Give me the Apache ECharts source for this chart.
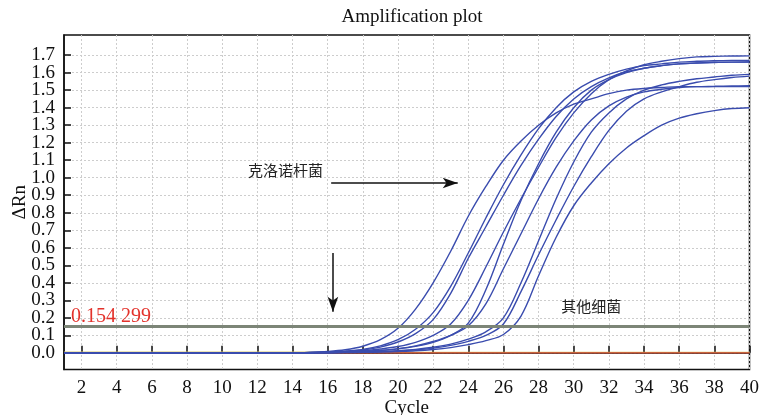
<!DOCTYPE html>
<html><head><meta charset="utf-8">
<script src="https://cdn.jsdelivr.net/npm/echarts@6/dist/echarts.min.js"></script>
<style>html,body{margin:0;padding:0;background:#fff}#c{width:760px;height:415px}</style>
</head><body><div id="c"></div>
<script>
const cycles = [1,2,3,4,5,6,7,8,9,10,11,12,13,14,15,16,17,18,19,20,21,22,23,24,25,26,27,28,29,30,31,32,33,34,35,36,37,38,39,40];
const xTicks = [2,4,6,8,10,12,14,16,18,20,22,24,26,28,30,32,34,36,38,40];
const yTicks = [0,0.1,0.2,0.3,0.4,0.5,0.6,0.7,0.8,0.9,1.0,1.1,1.2,1.3,1.4,1.5,1.6,1.7];
const yLabelSlots = [-0.09,0,0.1,0.2,0.3,0.4,0.5,0.6,0.7,0.8,0.9,1.0,1.1,1.2,1.3,1.4,1.5,1.6,1.7,1.81];
const threshold = 0.154299;
const thresholdText = '0.154 299';

const curveA = [0,0,0,0,0,0,0,0,0,0,0,0,0,0.001,0.003,0.008,0.018,0.038,0.075,0.14,0.25,0.40,0.58,0.78,0.95,1.10,1.21,1.30,1.37,1.42,1.45,1.48,1.50,1.51,1.515,1.52,1.52,1.522,1.524,1.525];
const curveB = [0,0,0,0,0,0,0,0,0,0,0,0,0,0,0.002,0.005,0.01,0.02,0.04,0.075,0.135,0.23,0.38,0.57,0.77,0.96,1.13,1.28,1.40,1.49,1.55,1.59,1.62,1.64,1.65,1.66,1.665,1.668,1.67,1.67];
const curveC = [0,0,0,0,0,0,0,0,0,0,0,0,0,0,0.002,0.004,0.008,0.016,0.033,0.062,0.11,0.19,0.34,0.54,0.72,0.90,1.07,1.22,1.35,1.45,1.52,1.57,1.605,1.625,1.64,1.65,1.655,1.66,1.66,1.662];
const curveD = [0,0,0,0,0,0,0,0,0,0,0,0,0,0,0.001,0.003,0.006,0.012,0.022,0.036,0.06,0.10,0.165,0.30,0.49,0.69,0.88,1.06,1.23,1.37,1.48,1.56,1.61,1.645,1.665,1.68,1.69,1.693,1.695,1.696];
const curveE = [0,0,0,0,0,0,0,0,0,0,0,0,0,0,0.001,0.002,0.004,0.008,0.014,0.023,0.037,0.06,0.10,0.17,0.36,0.62,0.87,1.08,1.26,1.40,1.50,1.56,1.60,1.625,1.64,1.65,1.655,1.658,1.66,1.66];
const curveF = [0,0,0,0,0,0,0,0,0,0,0,0,0,0,0.001,0.002,0.004,0.008,0.014,0.024,0.04,0.065,0.10,0.155,0.28,0.48,0.68,0.88,1.06,1.21,1.33,1.41,1.46,1.49,1.505,1.515,1.52,1.52,1.52,1.52];
const curveG = [0,0,0,0,0,0,0,0,0,0,0,0,0,0,0.001,0.002,0.003,0.005,0.008,0.013,0.02,0.032,0.05,0.078,0.12,0.20,0.40,0.64,0.88,1.09,1.26,1.37,1.45,1.50,1.53,1.55,1.565,1.575,1.585,1.59];
const curveH = [0,0,0,0,0,0,0,0,0,0,0,0,0,0,0.001,0.002,0.003,0.005,0.007,0.011,0.017,0.027,0.043,0.066,0.10,0.165,0.35,0.56,0.76,0.95,1.12,1.27,1.38,1.45,1.49,1.52,1.545,1.56,1.572,1.58];
const curveI = [0,0,0,0,0,0,0,0,0,0,0,0,0,0,0.001,0.001,0.002,0.003,0.005,0.008,0.012,0.019,0.03,0.047,0.07,0.105,0.21,0.44,0.66,0.84,0.97,1.08,1.17,1.24,1.30,1.34,1.365,1.383,1.395,1.40];
const otherBacteria1 = [0,0,0,0,0,0,0,0,0,0,0,0,0,0,0,0,0,0,0,0,0,0,0,0,0,0,0,0,0,0,0,0,0,0,0,0,0,0,0,0];
const otherBacteria2 = [0.004,0.004,0.004,0.004,0.004,0.004,0.004,0.004,0.004,0.004,0.004,0.004,0.004,0.004,0.004,0.004,0.004,0.004,0.004,0.004,0.003,0.003,0.003,0.003,0.003,0.003,0.003,0.003,0.003,0.003,0.003,0.003,0.003,0.003,0.003,0.003,0.003,0.003,0.003,0.003];

const cronoCurves = [curveA,curveB,curveC,curveD,curveE,curveF,curveG,curveH,curveI];
const labelCrono = '克洛诺杆菌';
const labelOther = '其他细菌';
const posCronoLabel = [13.6, 1.045];
const posOtherLabel = [31.0, 0.266];
const arrowH = [[16.2, 0.97],[23.4, 0.97]];
const arrowV = [[16.3, 0.57],[16.3, 0.235]];

const serif = '"Liberation Serif","Times New Roman",serif';
const cjk = '"Noto Sans CJK SC",sans-serif';

function zip(ys){ return cycles.map((c,i)=>[c, ys[i]]); }

const chart = echarts.init(document.getElementById('c'), null, {renderer:'canvas'});

const series = [];
series.push({
  type:'line', data: zip(otherBacteria2), showSymbol:false, silent:true,
  lineStyle:{color:'#d9c76a', width:1.2}, z:2
});
series.push({
  type:'line', data: zip(otherBacteria1), showSymbol:false, silent:true,
  lineStyle:{color:'#c8442c', width:1.4}, z:3,
  markLine:{
    silent:true, animation:false, symbol:['none','none'],
    data:[
      {yAxis: threshold, lineStyle:{color:'#7c8577', width:3, type:'solid'},
       label:{show:true, position:'insideStartTop', formatter: thresholdText, color:'#e3322b', fontFamily:serif, fontSize:20, distance:[7,0]}},
      [{coord: arrowH[0], symbol:'none', lineStyle:{color:'#111', width:1.5, type:'solid'}, label:{show:false}},
       {coord: arrowH[1], symbol:'arrow', symbolSize:[8,15]}],
      [{coord: arrowV[0], symbol:'none', lineStyle:{color:'#111', width:1.5, type:'solid'}, label:{show:false}},
       {coord: arrowV[1], symbol:'arrow', symbolSize:[8,15]}]
    ]
  },
  markPoint:{
    silent:true, animation:false,
    data:[
      {coord: posCronoLabel, symbol:'rect', symbolSize:1, itemStyle:{color:'rgba(0,0,0,0)'},
       label:{show:true, position:'inside', formatter: labelCrono, color:'#222', fontFamily:cjk, fontSize:15}},
      {coord: posOtherLabel, symbol:'rect', symbolSize:1, itemStyle:{color:'rgba(0,0,0,0)'},
       label:{show:true, position:'inside', formatter: labelOther, color:'#222', fontFamily:cjk, fontSize:15}}
    ]
  }
});
cronoCurves.forEach(ys=>{
  series.push({
    type:'line', data: zip(ys), showSymbol:false, silent:true,
    smooth:0.35,
    lineStyle:{color:'#3a4cae', width:1.4}, z:4
  });
});

chart.setOption({
  animation:false,
  backgroundColor:'#fff',
  title:{text:'Amplification plot', left:407, top:3, textAlign:'center',
    textStyle:{fontFamily:serif, fontSize:19, fontWeight:'normal', color:'#111'}},
  grid:{left:64, right:10.5, top:35, bottom:45.5, outerBoundsMode:'none', containLabel:false,
    show:true, borderColor:'#111', borderWidth:1.5, backgroundColor:'#fff'},
  xAxis:{
    type:'value', min:1, max:40,
    name:'Cycle', nameLocation:'middle', nameGap:29, nameMoveOverlap:false,
    nameTextStyle:{fontFamily:serif, fontSize:19, color:'#111'},
    axisLine:{show:true, lineStyle:{color:'#111', width:1.5}},
    axisTick:{show:true, inside:true, length:7, customValues:xTicks, lineStyle:{color:'#111', width:1.5}},
    axisLabel:{customValues:xTicks, fontFamily:serif, fontSize:19, color:'#111', margin:9,
      hideOverlap:false, showMinLabel:true, showMaxLabel:true},
    splitLine:{show:true, lineStyle:{color:'#cdcdcd', width:1, type:[2,2]}}
  },
  yAxis:{
    type:'value', min:-0.095, max:1.815,
    name:'ΔRn', nameLocation:'middle', nameGap:34, nameRotate:90, nameMoveOverlap:false,
    nameTextStyle:{fontFamily:serif, fontSize:19, color:'#111'},
    axisLine:{show:true, lineStyle:{color:'#111', width:1.5}},
    axisTick:{show:true, inside:true, length:7, customValues:yTicks, lineStyle:{color:'#111', width:1.5}},
    axisLabel:{customValues:yLabelSlots, fontFamily:serif, fontSize:19, lineHeight:12, color:'#111', margin:9,
      hideOverlap:false, showMinLabel:false, showMaxLabel:false,
      formatter:v=>(v < 0 || v > 1.75) ? '' : Number(v).toFixed(1)},
    splitLine:{show:true, lineStyle:{color:'#cdcdcd', width:1, type:[2,2]}}
  },
  series: series
});
</script>
</body></html>
